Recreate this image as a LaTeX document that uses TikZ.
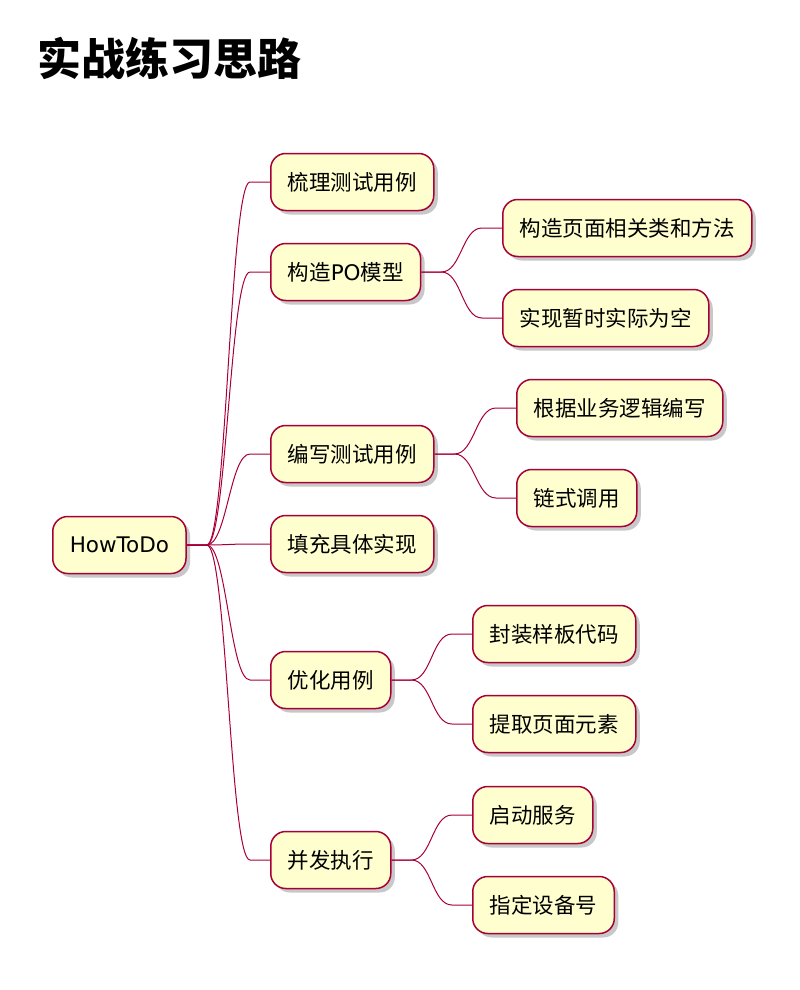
\documentclass[tikz,border=0pt]{standalone}
\usepackage{fontspec}
\setmainfont{Noto Sans CJK SC}
\newfontfamily\latin{DejaVu Sans}
\usepackage{tikz}
\usetikzlibrary{calc,shadows}
\definecolor{umlred}{RGB}{168,0,54}
\definecolor{umlfill}{RGB}{254,254,206}
\tikzset{
    topic/.style={draw=umlred, fill=umlfill, line width=1.5pt, rounded corners=15pt, anchor=west,
        minimum height=57pt, inner xsep=17pt, font=\fontsize{21.5}{26}\selectfont,
        drop shadow={shadow xshift=4pt, shadow yshift=-4pt, opacity=0.3, fill=black!70}},
    link/.style={draw=umlred, line width=1pt}
}
\newcommand{\branch}[2]{\draw[link] (#1.east) -- ++(20,0) .. controls +(20,0) and +(-20,0) .. ($(#2.west)+(-20,0)$) -- (#2.west);}

\begin{document}
\begin{tikzpicture}[x=1pt,y=-1pt]
\useasboundingbox[fill=white] (0,0) rectangle (800,990);
\node[anchor=west, font=\fontsize{44}{50}\selectfont\bfseries] (title) at (34,58) {实战练习思路};
% root and first level
\node[topic] (root) at (52,545) {{\latin HowToDo}};
\node[topic] (sort) at (270,182) {梳理测试用例};
\node[topic] (po) at (270,272) {构造{\latin PO}模型};
\node[topic] (write) at (270,454) {编写测试用例};
\node[topic] (fill) at (270,544) {填充具体实现};
\node[topic] (opt) at (270,680) {优化用例};
\node[topic] (run) at (270,860) {并发执行};
% second level
\node[topic] (pageclass) at (502,228) {构造页面相关类和方法};
\node[topic] (empty) at (502,318) {实现暂时实际为空};
\node[topic] (logic) at (516,408) {根据业务逻辑编写};
\node[topic] (chain) at (516,498) {链式调用};
\node[topic] (boiler) at (472,634) {封装样板代码};
\node[topic] (elems) at (472,724) {提取页面元素};
\node[topic] (start) at (472,815) {启动服务};
\node[topic] (device) at (472,905) {指定设备号};
% connectors
\foreach \a/\b in {root/sort, root/po, root/write, root/fill, root/opt, root/run,
    po/pageclass, po/empty, write/logic, write/chain, opt/boiler, opt/elems, run/start, run/device}
    {\branch{\a}{\b}}
\end{tikzpicture}
\end{document}
